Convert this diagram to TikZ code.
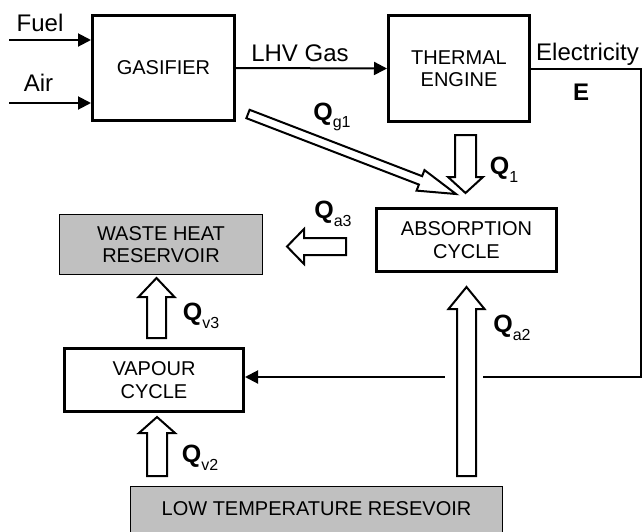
\documentclass[tikz,border=0pt]{standalone}
\usepackage{fontspec}
\setmainfont{Liberation Sans}
\usetikzlibrary{arrows.meta,calc}
\definecolor{resgray}{RGB}{192,192,192}
\newcommand\hollowarr[5]{%
  \coordinate (ha-t) at (#1);
  \coordinate (ha-p) at (#2);
  \coordinate (ha-h) at ($(ha-p)!#5pt!(ha-t)$);
  \draw[harrow] ($(ha-t)!#3pt!90:(ha-p)$) -- ($(ha-h)!#3pt!90:(ha-p)$)
    -- ($(ha-h)!#4pt!90:(ha-p)$) -- (ha-p) -- ($(ha-h)!#4pt!-90:(ha-p)$)
    -- ($(ha-h)!#3pt!-90:(ha-p)$) -- ($(ha-t)!#3pt!-90:(ha-p)$) -- cycle;}
\newcommand\qsub[1]{\textbf{Q}\raisebox{-0.3em}{\fontsize{16}{16}\selectfont #1}}
\begin{document}
\begin{tikzpicture}[x=1pt,y=-1pt,
  box/.style={draw, line width=3pt, fill=white, align=center, inner sep=0pt,
    font=\fontsize{20}{22.5}\selectfont},
  resbox/.style={fill=resgray, align=center, inner sep=0pt,
    font=\fontsize{20}{22.5}\selectfont},
  lab/.style={inner sep=0pt, font=\fontsize{24}{26}\selectfont},
  qlab/.style={inner sep=0pt, font=\fontsize{25}{25}\selectfont},
  flow/.style={line width=2pt, -{Triangle[length=13pt,width=13pt]}},
  line/.style={line width=2pt},
  harrow/.style={draw, line width=2pt, fill=white, line join=miter}]
\useasboundingbox (0,0) rectangle (643,531);

% boxes
\node[box, minimum width=142, minimum height=105] (gas) at (163.5,68) {GASIFIER};
\node[box, minimum width=141, minimum height=106] (therm) at (459,68.5) {THERMAL\\ENGINE};
\node[box, minimum width=180, minimum height=63] (abs) at (466.5,240) {ABSORPTION\\CYCLE};
\node[resbox, draw, line width=1.3pt, minimum width=203, minimum height=60] (waste) at (161,244.5) {WASTE HEAT\\RESERVOIR};
\node[box, minimum width=179, minimum height=63] (vap) at (154,380) {VAPOUR\\CYCLE};
\node[resbox, minimum width=372, minimum height=46] (low) at (316.5,510) {\raisebox{2pt}{LOW TEMPERATURE RESEVOIR}};
\draw[line width=1.3pt] (low.south west) |- (low.north east) -- (low.south east);

% inputs
\coordinate (fuelin) at (9,40);
\coordinate (airin) at (9,103);
\draw[flow] (fuelin) -- (fuelin -| gas.west);
\draw[flow] (airin) -- (airin -| gas.west);
\node[lab] (fuel) at (40,23) {Fuel};
\node[lab] (air) at (38.5,83) {Air};

% LHV gas
\draw[flow] (gas.east) -- (therm.west);
\node[lab] (lhv) at (300,53) {LHV Gas};

% electricity
\coordinate (ebot) at (641,377);
\draw[flow] (therm.east) -| (ebot) -- (ebot -| vap.east);
\node[lab] (elec) at (587.5,54) {Electricity};
\node[lab, font=\fontsize{24}{26}\selectfont\bfseries] (E) at (581,92) {E};
\fill[white] (445,368) rectangle (483,386);

% hollow heat arrows
\coordinate (q1t) at (465.5,135);  \coordinate (q1p) at (465.5,193);
\coordinate (qg1t) at (248,114);   \coordinate (qg1p) at (456,194);
\coordinate (qa3t) at (346,246.5); \coordinate (qa3p) at (287,246.5);
\coordinate (qv3t) at (156.5,338); \coordinate (qv3p) at (156.5,278);
\coordinate (qv2t) at (157,476);   \coordinate (qv2p) at (157,417);
\coordinate (qa2t) at (466.5,476); \coordinate (qa2p) at (466.5,287);
\hollowarr{qg1t}{qg1p}{4.5}{11}{38}
\hollowarr{q1t}{q1p}{10.5}{17.5}{16}
\hollowarr{qa3t}{qa3p}{8.5}{17.5}{17}
\hollowarr{qv3t}{qv3p}{9.5}{18}{19}
\hollowarr{qv2t}{qv2p}{10}{18}{16}
\hollowarr{qa2t}{qa2p}{9.5}{18}{22}

% heat labels
\node[qlab] (lg1) at (332,117) {\qsub{g1}};
\node[qlab] (l1) at (504,170) {\qsub{1}};
\node[qlab] (la3) at (333,214) {\qsub{a3}};
\node[qlab] (la2) at (512,328) {\qsub{a2}};
\node[qlab] (lv3) at (201,316) {\qsub{v3}};
\node[qlab] (lv2) at (200,458) {\qsub{v2}};
\end{tikzpicture}
\end{document}
